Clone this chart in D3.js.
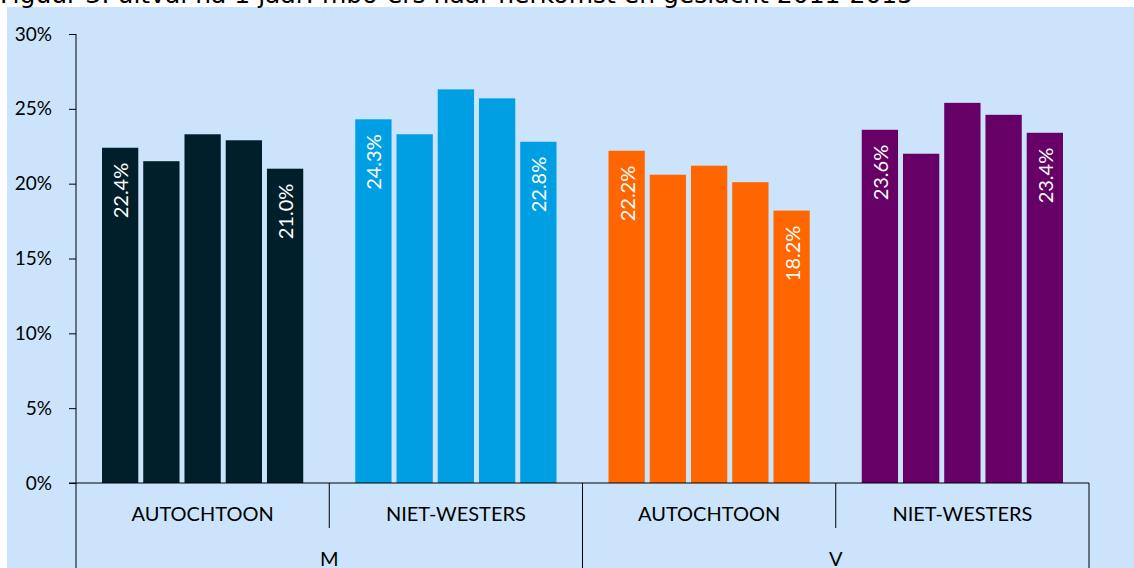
<!DOCTYPE html>
<html>
<head>
<meta charset="utf-8">
<script src="https://cdn.jsdelivr.net/npm/d3@7"></script>
<style>
  body { margin: 0; background: #fff; }
  svg { display: block; font-family: Lato, "Open Sans", sans-serif; }
</style>
</head>
<body>
<svg width="1134" height="568"></svg>
<script>
// data
const genders = ['M', 'V'];
const origins = ['AUTOCHTOON', 'NIET-WESTERS'];
const years = ['2011', '2012', '2013', '2014', '2015'];
const mAutochtoon = [22.4, 21.5, 23.3, 22.9, 21.0];
const mNietWesters = [24.3, 23.3, 26.3, 25.7, 22.8];
const vAutochtoon = [22.2, 20.6, 21.2, 20.1, 18.2];
const vNietWesters = [23.6, 22.0, 25.4, 24.6, 23.4];
const yTicks = [0, 5, 10, 15, 20, 25, 30];
const colors = ['#011f2a', '#009fe3', '#ff6600', '#660066'];

const groups = [
  { gender: 'M', origin: 'AUTOCHTOON', values: mAutochtoon },
  { gender: 'M', origin: 'NIET-WESTERS', values: mNietWesters },
  { gender: 'V', origin: 'AUTOCHTOON', values: vAutochtoon },
  { gender: 'V', origin: 'NIET-WESTERS', values: vNietWesters },
];
groups.forEach(g => g.key = g.gender + '|' + g.origin);

const svg = d3.select('svg');

// light blue panel
svg.append('rect')
  .attr('x', 7).attr('y', 7)
  .attr('width', 1127).attr('height', 561)
  .attr('fill', '#cbe4fc');

// title, cut off at the top like in the source
svg.append('text')
  .attr('x', 0).attr('y', 3)
  .attr('font-family', '"DejaVu Sans"')
  .attr('font-size', 25)
  .attr('fill', '#000')
  .text("Figuur 3: uitval na 1 jaar: mbo-ers naar herkomst en geslacht 2011-2015");

const plotLeft = 76, plotRight = 1089, plotTop = 34, base = 483;

const y = d3.scaleLinear().domain([0, 30]).range([base, plotTop]);

const x = d3.scaleBand()
  .domain(groups.map(g => g.key))
  .range([plotLeft, plotRight]);

const xGender = d3.scaleBand()
  .domain(genders)
  .range([plotLeft, plotRight]);

const xYear = d3.scaleBand()
  .domain(years)
  .range([26, x.bandwidth() - 26])
  .paddingInner(0.12);

// y axis
const yAxis = svg.append('g')
  .attr('transform', `translate(${plotLeft},0)`)
  .call(d3.axisLeft(y).tickValues(yTicks).tickFormat(d => d + '%').tickSize(7).tickPadding(17));
yAxis.select('.domain').remove();
yAxis.selectAll('line').attr('stroke', '#000');
yAxis.selectAll('text').attr('font-size', 19).attr('fill', '#000').attr('font-family', 'Lato');

svg.append('line')
  .attr('x1', plotLeft).attr('x2', plotLeft)
  .attr('y1', plotTop).attr('y2', 568)
  .attr('stroke', '#000');

// bars
const g = svg.selectAll('.grp')
  .data(groups)
  .join('g')
  .attr('class', 'grp')
  .attr('transform', d => `translate(${x(d.key)},0)`);

g.selectAll('rect')
  .data((d, i) => d.values.map((v, j) => ({ v, year: years[j], c: colors[i] })))
  .join('rect')
  .attr('x', d => xYear(d.year))
  .attr('y', d => y(d.v))
  .attr('width', xYear.bandwidth())
  .attr('height', d => base - y(d.v))
  .attr('fill', d => d.c);

// labels on first and last year
g.selectAll('text.lbl')
  .data(d => d.values.map((v, j) => ({ v, year: years[j] })).filter((d, j) => j === 0 || j === years.length - 1))
  .join('text')
  .attr('class', 'lbl')
  .attr('transform', d => `translate(${xYear(d.year) + xYear.bandwidth() / 2 + 8},${y(d.v) + 15}) rotate(-90)`)
  .attr('text-anchor', 'end')
  .attr('font-size', 20)
  .attr('fill', '#fff')
  .text(d => d.v.toFixed(1) + '%');

// x axis line
svg.append('line')
  .attr('x1', plotLeft - 7).attr('x2', plotRight)
  .attr('y1', base).attr('y2', base)
  .attr('stroke', '#000');

// separators for origin level
groups.forEach((d, i) => {
  if (i % 2 === 1) {
    svg.append('line')
      .attr('x1', x(d.key)).attr('x2', x(d.key))
      .attr('y1', base).attr('y2', 528)
      .attr('stroke', '#000');
  }
});
// separators for gender level
genders.forEach(gd => {
  const xe = xGender(gd) + xGender.bandwidth();
  svg.append('line')
    .attr('x1', xe).attr('x2', xe)
    .attr('y1', base).attr('y2', 568)
    .attr('stroke', '#000');
});

svg.selectAll('text.orig')
  .data(groups)
  .join('text')
  .attr('class', 'orig')
  .attr('x', d => x(d.key) + x.bandwidth() / 2)
  .attr('y', 521)
  .attr('text-anchor', 'middle')
  .attr('font-size', 20)
  .attr('fill', '#000')
  .text(d => d.origin);

svg.selectAll('text.gen')
  .data(genders)
  .join('text')
  .attr('class', 'gen')
  .attr('x', d => xGender(d) + xGender.bandwidth() / 2)
  .attr('y', 566)
  .attr('text-anchor', 'middle')
  .attr('font-size', 20)
  .attr('fill', '#000')
  .text(d => d);
</script>
</body>
</html>
